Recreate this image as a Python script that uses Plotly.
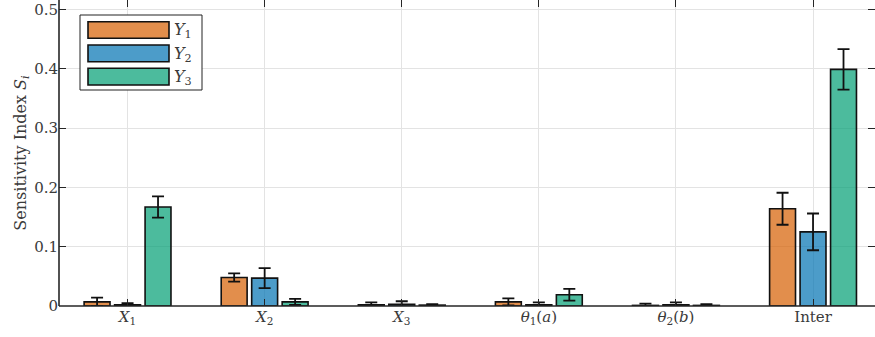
import plotly.graph_objects as go

categories = ["<i>X</i><sub>1</sub>", "<i>X</i><sub>2</sub>", "<i>X</i><sub>3</sub>",
              "<i>θ</i><sub>1</sub>(<i>a</i>)", "<i>θ</i><sub>2</sub>(<i>b</i>)", "Inter"]
series_names = ["<i>Y</i><sub>1</sub>", "<i>Y</i><sub>2</sub>", "<i>Y</i><sub>3</sub>"]

y1_vals = [0.007, 0.048, 0.002, 0.007, 0.001, 0.164]
y1_err = [0.007, 0.007, 0.004, 0.006, 0.003, 0.027]
y2_vals = [0.002, 0.047, 0.003, 0.002, 0.002, 0.125]
y2_err = [0.003, 0.017, 0.005, 0.004, 0.004, 0.031]
y3_vals = [0.167, 0.007, 0.0015, 0.019, 0.001, 0.399]
y3_err = [0.018, 0.005, 0.0015, 0.010, 0.002, 0.034]

y_tickvals = [0, 0.1, 0.2, 0.3, 0.4, 0.5]
y_ticktext = ["0", "0.1", "0.2", "0.3", "0.4", "0.5"]

fills = ["rgba(213,94,0,0.7)", "rgba(0,114,178,0.7)", "rgba(0,158,115,0.7)"]
values = [y1_vals, y2_vals, y3_vals]
errors = [y1_err, y2_err, y3_err]

FONT = "DejaVu Serif"
TXT = "#3a3a3a"
AX = "#262626"

fig = go.Figure()
for name, v, e, c in zip(series_names, values, errors, fills):
    fig.add_trace(go.Bar(
        x=categories, y=v, name=name,
        marker=dict(color=c, line=dict(color="#111111", width=1.6)),
        error_y=dict(type="data", array=e, color="#111111", thickness=1.8, width=6),
        showlegend=False,
    ))

xr = [-0.5, 5.452]
yr = [0, 0.516]

fig.update_layout(
    width=875, height=337,
    margin=dict(l=59, r=0, t=0, b=31, autoexpand=False),
    paper_bgcolor="white", plot_bgcolor="white",
    barmode="group", bargap=0.333, bargroupgap=0.15,
    font=dict(family=FONT, color=TXT, size=15),
    xaxis=dict(type="category", range=xr, showgrid=True, gridcolor="#e3e3e3", gridwidth=1,
               showline=False, mirror="ticks", ticks="inside", ticklen=7,
               tickcolor=AX, tickwidth=1.3, tickfont=dict(family=FONT, size=15, color=TXT),
               zeroline=False, automargin=False),
    yaxis=dict(range=yr, tickvals=y_tickvals, ticktext=y_ticktext, showgrid=True,
               gridcolor="#e3e3e3", gridwidth=1, showline=False, mirror="ticks",
               ticks="inside", ticklen=7, tickcolor=AX, tickwidth=1.3, zeroline=False,
               automargin=False,
               tickfont=dict(family=FONT, size=15, color=TXT),
               title=dict(text="Sensitivity Index <i>S<sub>i</sub></i>", standoff=3,
                          font=dict(family=FONT, size=16, color=TXT))),
)

# visible left and bottom axis lines
fig.add_shape(type="line", xref="paper", yref="paper", x0=0, x1=1, y0=0, y1=0,
              line=dict(color=AX, width=1.6), layer="above")
fig.add_shape(type="line", xref="paper", yref="paper", x0=0, x1=0, y0=0, y1=1,
              line=dict(color=AX, width=1.6), layer="above")

# manual legend (box, swatches, labels)
def px_x(p):
    return (p - 59) / 816.0

def px_y(p):
    return 1 - p / 306.0

fig.add_shape(type="rect", xref="paper", yref="paper",
              x0=px_x(80), x1=px_x(202), y0=px_y(90), y1=px_y(15),
              line=dict(color="#222222", width=1), fillcolor="white", layer="above")
rows = [(21.7, 38.3), (45.0, 61.7), (68.3, 85.0)]
for (t, b), c, name in zip(rows, fills, series_names):
    fig.add_shape(type="rect", xref="paper", yref="paper",
                  x0=px_x(88), x1=px_x(169), y0=px_y(b), y1=px_y(t),
                  line=dict(color="#111111", width=1.6), fillcolor=c, layer="above")
    fig.add_annotation(xref="paper", yref="paper", x=px_x(172), y=px_y((t + b) / 2 + 1),
                       text=name, showarrow=False, xanchor="left", yanchor="middle",
                       font=dict(family=FONT, size=16, color=TXT))

fig.write_html("out.html", config={"displayModeBar": False},
               post_script="document.body.style.margin='0';document.body.style.overflow='hidden';")
